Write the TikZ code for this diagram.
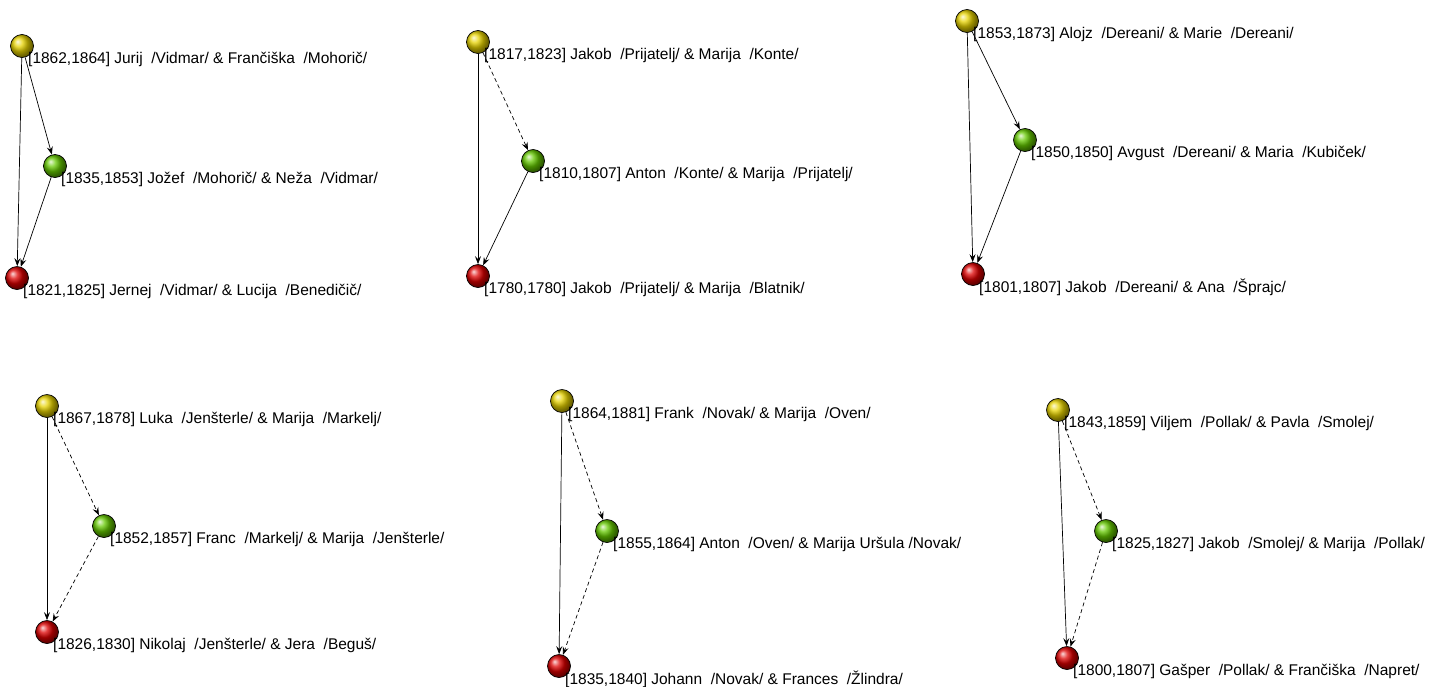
\documentclass[tikz,border=0pt]{standalone}
\usepackage{fontspec}
\setmainfont{Liberation Sans}
\usetikzlibrary{arrows.meta}

\definecolor{ballyellow}{RGB}{230,210,0}
\definecolor{ballgreen}{RGB}{100,200,0}
\definecolor{ballred}{RGB}{220,0,0}

\tikzset{
    ball/.style={circle, draw=black, line width=0.7pt, minimum size=23pt, inner sep=0pt},
    yel/.style={ball, ball color=ballyellow},
    grn/.style={ball, ball color=ballgreen},
    rd/.style={ball, ball color=ballred},
    lbl/.style={anchor=west, inner sep=0pt, font=\fontsize{15.5}{18}\selectfont},
    edge/.style={-{Stealth[length=8pt,width=6pt,inset=3pt]}, line width=0.7pt},
    sedge/.style={edge, dash pattern=on 4pt off 3pt}
}

\begin{document}
\begin{tikzpicture}[x=1pt,y=-1pt]
    \useasboundingbox (0,0) rectangle (1448,686);

    % top row
    \node[yel] (y1) at (22,46) {};
    \node[grn] (g1) at (55,166) {};
    \node[rd]  (r1) at (17,278) {};
    \node[lbl] (y1t) at ([shift={(6,13)}]y1) {[1862,1864] Jurij~~/Vidmar/ \& Frančiška~~/Mohorič/};
    \node[lbl] (g1t) at ([shift={(6,13)}]g1) {[1835,1853] Jožef~~/Mohorič/ \& Neža~~/Vidmar/};
    \node[lbl] (r1t) at ([shift={(6,13)}]r1) {[1821,1825] Jernej~~/Vidmar/ \& Lucija~~/Benedičič/};
    \draw[edge] (y1) to (g1);
    \draw[edge] (y1) to (r1);
    \draw[edge] (g1) to (r1);

    \node[yel] (y2) at (478,42) {};
    \node[grn] (g2) at (533,161) {};
    \node[rd]  (r2) at (478,276) {};
    \node[lbl] (y2t) at ([shift={(6,13)}]y2) {[1817,1823] Jakob~~/Prijatelj/ \& Marija~~/Konte/};
    \node[lbl] (g2t) at ([shift={(6,13)}]g2) {[1810,1807] Anton~~/Konte/ \& Marija~~/Prijatelj/};
    \node[lbl] (r2t) at ([shift={(6,13)}]r2) {[1780,1780] Jakob~~/Prijatelj/ \& Marija~~/Blatnik/};
    \draw[sedge] (y2) to (g2);
    \draw[edge] (y2) to (r2);
    \draw[edge] (g2) to (r2);

    \node[yel] (y3) at (967,21) {};
    \node[grn] (g3) at (1025,140) {};
    \node[rd]  (r3) at (973,274) {};
    \node[lbl] (y3t) at ([shift={(6,13)}]y3) {[1853,1873] Alojz~~/Dereani/ \& Marie~~/Dereani/};
    \node[lbl] (g3t) at ([shift={(6,13)}]g3) {[1850,1850] Avgust~~/Dereani/ \& Maria~~/Kubiček/};
    \node[lbl] (r3t) at ([shift={(6,13)}]r3) {[1801,1807] Jakob~~/Dereani/ \& Ana~~/Šprajc/};
    \draw[edge] (y3) to (g3);
    \draw[edge] (y3) to (r3);
    \draw[edge] (g3) to (r3);

    % bottom row
    \node[yel] (y4) at (47,406) {};
    \node[grn] (g4) at (104,526) {};
    \node[rd]  (r4) at (47,632) {};
    \node[lbl] (y4t) at ([shift={(6,13)}]y4) {[1867,1878] Luka~~/Jenšterle/ \& Marija~~/Markelj/};
    \node[lbl] (g4t) at ([shift={(6,13)}]g4) {[1852,1857] Franc~~/Markelj/ \& Marija~~/Jenšterle/};
    \node[lbl] (r4t) at ([shift={(6,13)}]r4) {[1826,1830] Nikolaj~~/Jenšterle/ \& Jera~~/Beguš/};
    \draw[sedge] (y4) to (g4);
    \draw[edge] (y4) to (r4);
    \draw[sedge] (g4) to (r4);

    \node[yel] (y5) at (562,401) {};
    \node[grn] (g5) at (607,531) {};
    \node[rd]  (r5) at (559,666) {};
    \node[lbl] (y5t) at ([shift={(6,13)}]y5) {[1864,1881] Frank~~/Novak/ \& Marija~~/Oven/};
    \node[lbl] (g5t) at ([shift={(6,13)}]g5) {[1855,1864] Anton~~/Oven/ \& Marija Uršula /Novak/};
    \node[lbl] (r5t) at ([shift={(6,13)}]r5) {[1835,1840] Johann~~/Novak/ \& Frances~~/Žlindra/};
    \draw[sedge] (y5) to (g5);
    \draw[edge] (y5) to (r5);
    \draw[sedge] (g5) to (r5);

    \node[yel] (y6) at (1058,410) {};
    \node[grn] (g6) at (1106,531) {};
    \node[rd]  (r6) at (1067,658) {};
    \node[lbl] (y6t) at ([shift={(6,13)}]y6) {[1843,1859] Viljem~~/Pollak/ \& Pavla~~/Smolej/};
    \node[lbl] (g6t) at ([shift={(6,13)}]g6) {[1825,1827] Jakob~~/Smolej/ \& Marija~~/Pollak/};
    \node[lbl] (r6t) at ([shift={(6,13)}]r6) {[1800,1807] Gašper~~/Pollak/ \& Frančiška~~/Napret/};
    \draw[sedge] (y6) to (g6);
    \draw[edge] (y6) to (r6);
    \draw[sedge] (g6) to (r6);
\end{tikzpicture}
\end{document}
